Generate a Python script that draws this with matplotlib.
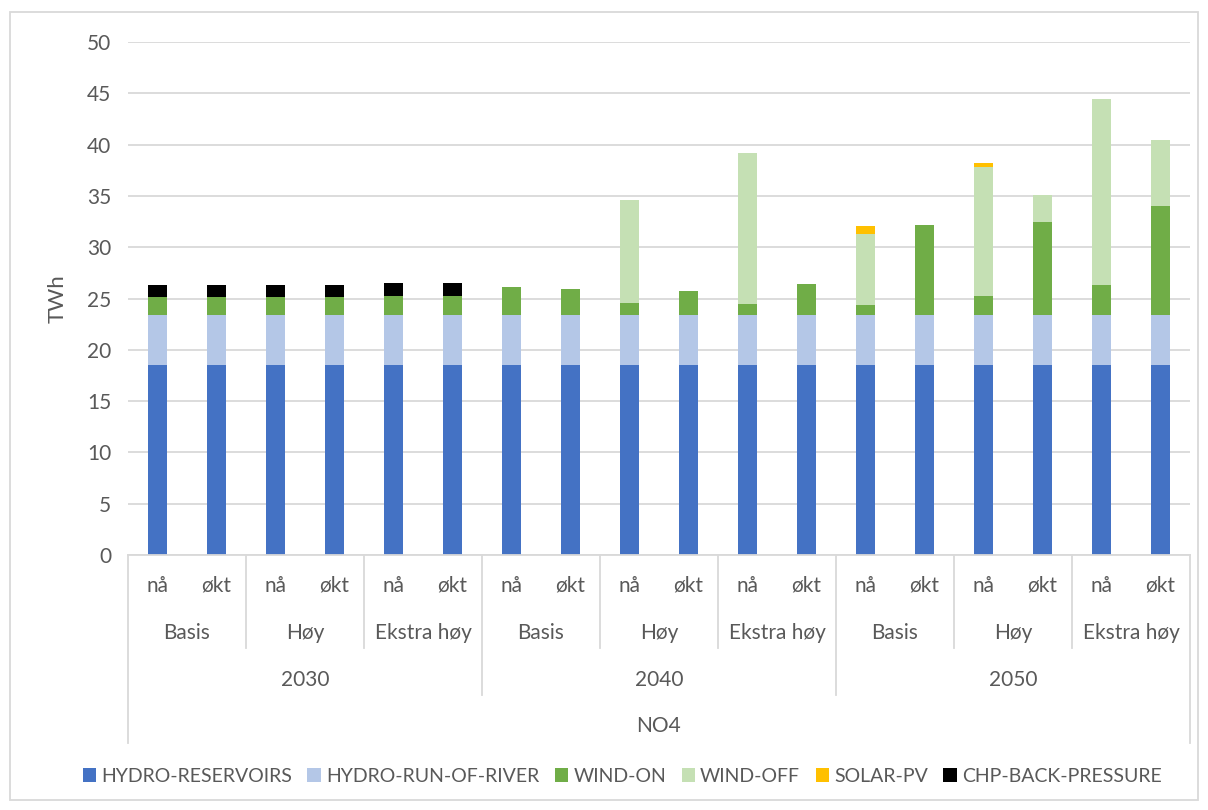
import numpy as np
import matplotlib.pyplot as plt
import matplotlib.transforms as mtransforms
from matplotlib.lines import Line2D
from matplotlib.patches import Rectangle

plt.rcParams['font.family'] = ['Lato', 'DejaVu Sans']

years = ['2030', '2040', '2050']
scenarios = ['Basis', 'Høy', 'Ekstra høy']
cases = ['nå', 'økt']
region = 'NO4'

hydro_res = [18.47] * 18
hydro_ror = [4.97] * 18
wind_on = [1.69, 1.69, 1.75, 1.75, 1.85, 1.85,
           2.70, 2.53, 1.17, 2.27, 1.07, 3.02,
           0.88, 8.70, 1.82, 9.06, 2.83, 10.53]
wind_off = [0, 0, 0, 0, 0, 0,
            0, 0, 9.97, 0, 14.69, 0,
            6.92, 0, 12.51, 2.54, 18.22, 6.46]
solar_pv = [0, 0, 0, 0, 0, 0,
            0, 0, 0, 0, 0, 0,
            0.78, 0, 0.39, 0, 0, 0]
chp = [1.14, 1.14, 1.17, 1.17, 1.20, 1.20,
       0, 0, 0, 0, 0, 0,
       0, 0, 0, 0, 0, 0]

series = [
    ('HYDRO-RESERVOIRS', hydro_res, '#4472C4'),
    ('HYDRO-RUN-OF-RIVER', hydro_ror, '#B4C7E7'),
    ('WIND-ON', wind_on, '#70AD47'),
    ('WIND-OFF', wind_off, '#C5E0B4'),
    ('SOLAR-PV', solar_pv, '#FFC000'),
    ('CHP-BACK-PRESSURE', chp, '#000000'),
]

txt = '#595959'
grid = '#D9D9D9'
fs = 15

fig = plt.figure(figsize=(12.08, 8.10), dpi=100)
ax = fig.add_axes([128/1208, 1-555/810, (1190-128)/1208, (555-42)/810])

x = np.arange(18)
bottom = np.zeros(18)
for name, vals, col in series:
    vals = np.array(vals)
    ax.bar(x, vals, 0.32, bottom=bottom, color=col, label=name, zorder=2)
    bottom += vals

ax.set_xlim(-0.5, 17.5)
ax.set_ylim(0, 50)
ax.set_yticks(np.arange(0, 51, 5))
ax.yaxis.grid(True, color=grid, linewidth=1.3, zorder=0)
ax.set_xticks([])
for s in ['top', 'right', 'left']:
    ax.spines[s].set_visible(False)
ax.spines['bottom'].set_color(grid)
ax.spines['bottom'].set_linewidth(1.3)
ax.tick_params(axis='y', length=0, labelsize=fs, labelcolor=txt, pad=12)
ax.set_ylabel('TWh', fontsize=16, color=txt, labelpad=14)

# hierarchical category axis
tr = mtransforms.blended_transform_factory(ax.transData, fig.transFigure)
def fy(py):
    return 1 - py / 810

def vline(xv, y_end):
    ax.add_line(Line2D([xv, xv], [fy(555), fy(y_end)], transform=tr,
                       color=grid, linewidth=1.3, clip_on=False))

for i in range(18):
    ax.text(i, fy(586), cases[i % 2], transform=tr, ha='center', va='center',
            fontsize=fs, color=txt)
for j in range(9):
    ax.text(2 * j + 0.5, fy(633), scenarios[j % 3], transform=tr, ha='center',
            va='center', fontsize=fs, color=txt)
for k in range(3):
    ax.text(6 * k + 2.5, fy(680), years[k], transform=tr, ha='center',
            va='center', fontsize=fs, color=txt)
ax.text(8.5, fy(726), region, transform=tr, ha='center', va='center',
        fontsize=fs, color=txt)

for j in range(1, 9):
    if j % 3 == 0:
        vline(2 * j - 0.5, 695)
    else:
        vline(2 * j - 0.5, 648)
vline(-0.5, 743)
vline(17.5, 743)

fig.legend(loc='center', bbox_to_anchor=(0.515, fy(776)), ncol=6,
           frameon=False, labelcolor=txt, handlelength=0.7,
           handleheight=0.7, handletextpad=0.25, columnspacing=0.8,
           prop={'size': 14})

fig.patches.append(Rectangle((10/1208, 1-800/810), 1188/1208, 788/810,
                             transform=fig.transFigure, fill=False,
                             edgecolor=grid, linewidth=1.3))

fig.savefig('out.png', dpi=100)
